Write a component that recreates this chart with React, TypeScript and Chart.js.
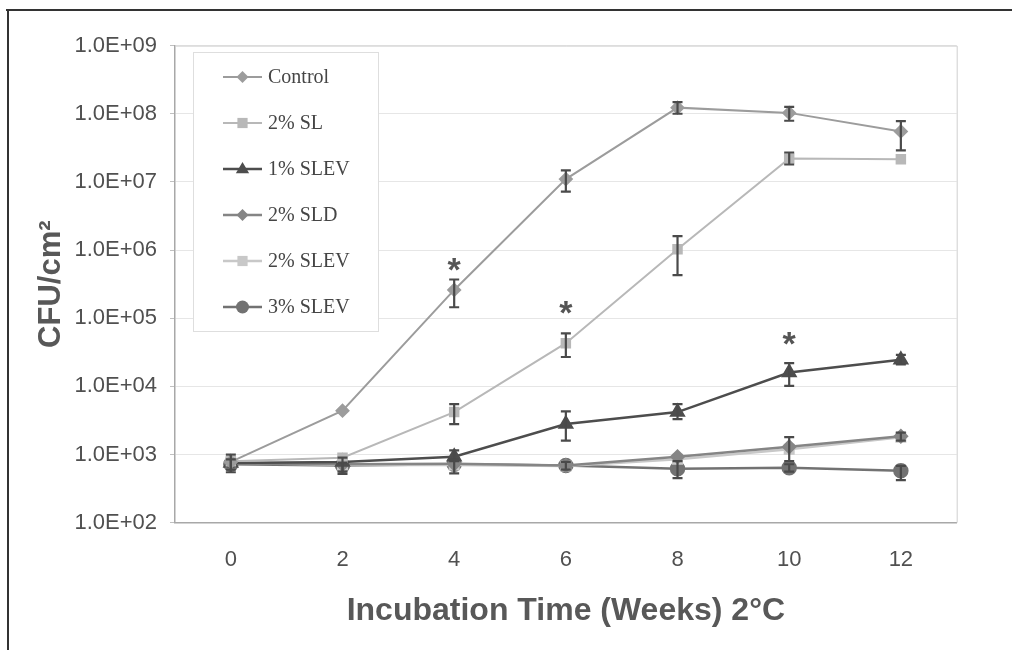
import React, { useEffect, useRef } from 'react';
import { Chart, registerables } from 'chart.js';

Chart.register(...registerables);

// ---------- data ----------
const weeks = ['0', '2', '4', '6', '8', '10', '12'];

const seriesNames = ['Control', '2% SL', '1% SLEV', '2% SLD', '2% SLEV', '3% SLEV'];

const controlValues = [780, 4400, 260000, 1.1e7, 1.23e8, 1.03e8, 5.5e7];
const sl2Values = [800, 900, 4200, 43000, 1.03e6, 2.2e7, 2.15e7];
const slev1Values = [750, 780, 930, 2800, 4200, 16000, 24500];
const sld2Values = [740, 720, 730, 690, 930, 1300, 1850];
const slev2Values = [760, 700, 700, 680, 850, 1200, 1800];
const slev3Values = [720, 690, 720, 690, 620, 640, 580];

// error bars: [low, high] or null
const controlErr = [[550, 1000], null, [145000, 370000], [7.2e6, 1.48e7], [1.0e8, 1.48e8], [7.9e7, 1.26e8], [2.9e7, 7.8e7]];
const sl2Err = [null, null, [2800, 5500], [27000, 60000], [430000, 1.6e6], [1.8e7, 2.7e7], null];
const slev1Err = [null, null, [800, 1150], [1600, 4300], [3300, 5500], [10200, 22000], [21000, 29000]];
const sld2Err = [null, [560, 900], null, null, null, [800, 1800], [1600, 2100]];
const slev2Err = [null, null, null, null, null, null, null];
const slev3Err = [[600, 850], [520, 760], [530, 850], [600, 780], [450, 800], [560, 720], [420, 680]];

// significance markers
const starWeeks = ['4', '6', '10'];
const starValues = [680000, 156000, 55000];

// y axis ticks
const yTicks = [1e2, 1e3, 1e4, 1e5, 1e6, 1e7, 1e8, 1e9];
const yTickLabels = ['1.0E+02', '1.0E+03', '1.0E+04', '1.0E+05', '1.0E+06', '1.0E+07', '1.0E+08', '1.0E+09'];

// ---------- styles ----------
const seriesColors = ['#9c9c9c', '#b8b8b8', '#4d4d4d', '#858585', '#c8c8c8', '#727272'];
const seriesMarkers = ['rectRot', 'rect', 'triangle', 'rectRot', 'rect', 'circle'];
const seriesRadius = [6, 6, 7, 6, 6, 6.5];
const seriesWidth = [2, 2, 2.5, 2.5, 2.5, 2.5];
const allValues = [controlValues, sl2Values, slev1Values, sld2Values, slev2Values, slev3Values];
const allErrs = [controlErr, sl2Err, slev1Err, sld2Err, slev2Err, slev3Err];

const SANS = 'Arial, "Liberation Sans", sans-serif';
const SERIF = '"Times New Roman", "Liberation Serif", serif';

function drawMarker(ctx: CanvasRenderingContext2D, style: string, x: number, y: number, r: number, color: string) {
  ctx.save();
  ctx.fillStyle = color;
  ctx.strokeStyle = color;
  ctx.lineWidth = 1;
  ctx.beginPath();
  if (style === 'rectRot') {
    ctx.moveTo(x, y - r);
    ctx.lineTo(x + r, y);
    ctx.lineTo(x, y + r);
    ctx.lineTo(x - r, y);
    ctx.closePath();
  } else if (style === 'rect') {
    const s = r * 0.85;
    ctx.rect(x - s, y - s, 2 * s, 2 * s);
  } else if (style === 'triangle') {
    ctx.moveTo(x, y - r);
    ctx.lineTo(x + r * 0.95, y + r * 0.6);
    ctx.lineTo(x - r * 0.95, y + r * 0.6);
    ctx.closePath();
  } else {
    ctx.arc(x, y, r, 0, Math.PI * 2);
  }
  ctx.fill();
  ctx.restore();
}

const extrasPlugin = {
  id: 'extras',
  beforeDraw(chart: any) {
    const ctx = chart.ctx as CanvasRenderingContext2D;
    ctx.save();
    ctx.fillStyle = '#ffffff';
    ctx.fillRect(0, 0, chart.width, chart.height);
    ctx.restore();
  },
  afterDatasetsDraw(chart: any) {
    const ctx = chart.ctx as CanvasRenderingContext2D;
    const ys = chart.scales.y;
    const xs = chart.scales.x;
    const area = chart.chartArea;

    // plot area right/top border
    ctx.save();
    ctx.strokeStyle = '#cfcfcf';
    ctx.lineWidth = 1;
    ctx.beginPath();
    ctx.moveTo(area.left, area.top + 0.5);
    ctx.lineTo(area.right + 0.5, area.top + 0.5);
    ctx.lineTo(area.right + 0.5, area.bottom);
    ctx.stroke();
    ctx.restore();

    // error bars
    ctx.save();
    ctx.strokeStyle = '#4a4a4a';
    ctx.lineWidth = 2.2;
    allErrs.forEach((errs, i) => {
      const meta = chart.getDatasetMeta(i);
      errs.forEach((e: any, j: number) => {
        if (!e) return;
        const pt = meta.data[j];
        const x = pt.x;
        const y1 = ys.getPixelForValue(e[0]);
        const y2 = ys.getPixelForValue(e[1]);
        ctx.beginPath();
        ctx.moveTo(x, y1);
        ctx.lineTo(x, y2);
        ctx.moveTo(x - 5, y1);
        ctx.lineTo(x + 5, y1);
        ctx.moveTo(x - 5, y2);
        ctx.lineTo(x + 5, y2);
        ctx.stroke();
      });
    });
    ctx.restore();

    // asterisks
    ctx.save();
    ctx.fillStyle = '#555555';
    ctx.font = 'bold 34px ' + SANS;
    ctx.textAlign = 'center';
    ctx.textBaseline = 'alphabetic';
    starWeeks.forEach((w, k) => {
      const x = xs.getPixelForValue(weeks.indexOf(w));
      const y = ys.getPixelForValue(starValues[k]);
      ctx.fillText('*', x, y + 34 * 0.57);
    });
    ctx.restore();

    // legend
    const lx = 193, ly = 52, lw = 185, lh = 279;
    ctx.save();
    ctx.fillStyle = '#ffffff';
    ctx.fillRect(lx, ly, lw, lh);
    ctx.strokeStyle = '#dedede';
    ctx.lineWidth = 1;
    ctx.strokeRect(lx + 0.5, ly + 0.5, lw, lh);
    ctx.font = '20px ' + SERIF;
    ctx.textAlign = 'left';
    ctx.textBaseline = 'middle';
    seriesNames.forEach((name, i) => {
      const y = 77 + i * 46;
      ctx.strokeStyle = seriesColors[i];
      ctx.lineWidth = seriesWidth[i];
      ctx.beginPath();
      ctx.moveTo(223, y);
      ctx.lineTo(262, y);
      ctx.stroke();
      drawMarker(ctx, seriesMarkers[i], 242.5, y, seriesRadius[i], seriesColors[i]);
      ctx.fillStyle = '#454545';
      ctx.fillText(name, 268, y + 1);
    });
    ctx.restore();

    // outer frame (top and left)
    ctx.save();
    ctx.strokeStyle = '#333333';
    ctx.lineWidth = 2;
    ctx.beginPath();
    ctx.moveTo(6, 10);
    ctx.lineTo(chart.width, 10);
    ctx.moveTo(8, 10);
    ctx.lineTo(8, chart.height);
    ctx.stroke();
    ctx.restore();
  },
};

export default function App() {
  const ref = useRef<HTMLCanvasElement | null>(null);

  useEffect(() => {
    if (!ref.current) return;
    const datasets = seriesNames.map((name, i) => ({
      label: name,
      data: allValues[i],
      borderColor: seriesColors[i],
      backgroundColor: seriesColors[i],
      pointBackgroundColor: seriesColors[i],
      pointBorderColor: seriesColors[i],
      pointStyle: seriesMarkers[i] as any,
      pointRadius: seriesRadius[i],
      borderWidth: seriesWidth[i],
      tension: 0,
      fill: false,
    }));
    const chart = new Chart(ref.current, {
      type: 'line',
      data: { labels: weeks, datasets },
      plugins: [extrasPlugin],
      options: {
        responsive: false,
        animation: false,
        layout: { padding: { top: 45.6, right: 55.3, left: 0, bottom: 0 } },
        plugins: { legend: { display: false }, tooltip: { enabled: false } },
        scales: {
          x: {
            type: 'category',
            offset: true,
            grid: { display: false, drawTicks: false, tickLength: 0 },
            border: { display: true, color: '#a8a8a8', width: 1.5 },
            ticks: { color: '#505050', font: { family: SANS, size: 22 }, padding: 24 },
            title: {
              display: true,
              text: 'Incubation Time (Weeks) 2°C',
              color: '#585858',
              font: { family: SANS, size: 32, weight: 'bold' },
              padding: { top: 0, bottom: 20 },
            },
            afterFit: (s: any) => {
              s.height = 127.3;
            },
          } as any,
          y: {
            type: 'logarithmic',
            min: 100,
            max: 1e9,
            afterBuildTicks: (s: any) => {
              s.ticks = yTicks.map((v) => ({ value: v }));
            },
            ticks: {
              color: '#505050',
              font: { family: SANS, size: 22 },
              padding: 13,
              autoSkip: false,
              callback: (v: any) => {
                const k = yTicks.indexOf(Number(v));
                return k >= 0 ? yTickLabels[k] : '';
              },
            },
            grid: { color: '#e6e6e6', tickLength: 5, tickColor: '#c0c0c0' },
            border: { display: true, color: '#a8a8a8', width: 1.5 },
            title: {
              display: true,
              text: 'CFU/cm²',
              color: '#585858',
              font: { family: SANS, size: 31, weight: 'bold' },
              padding: { top: 33, bottom: 0 },
            },
            afterFit: (s: any) => {
              s.width = 175;
            },
          } as any,
        },
      },
    });
    return () => chart.destroy();
  }, []);

  return (
    <div style={{ position: 'fixed', left: 0, top: 0, width: 1012, height: 650, background: '#fff' }}>
      <canvas ref={ref} width={1012} height={650} style={{ width: 1012, height: 650, display: 'block' }} />
    </div>
  );
}
